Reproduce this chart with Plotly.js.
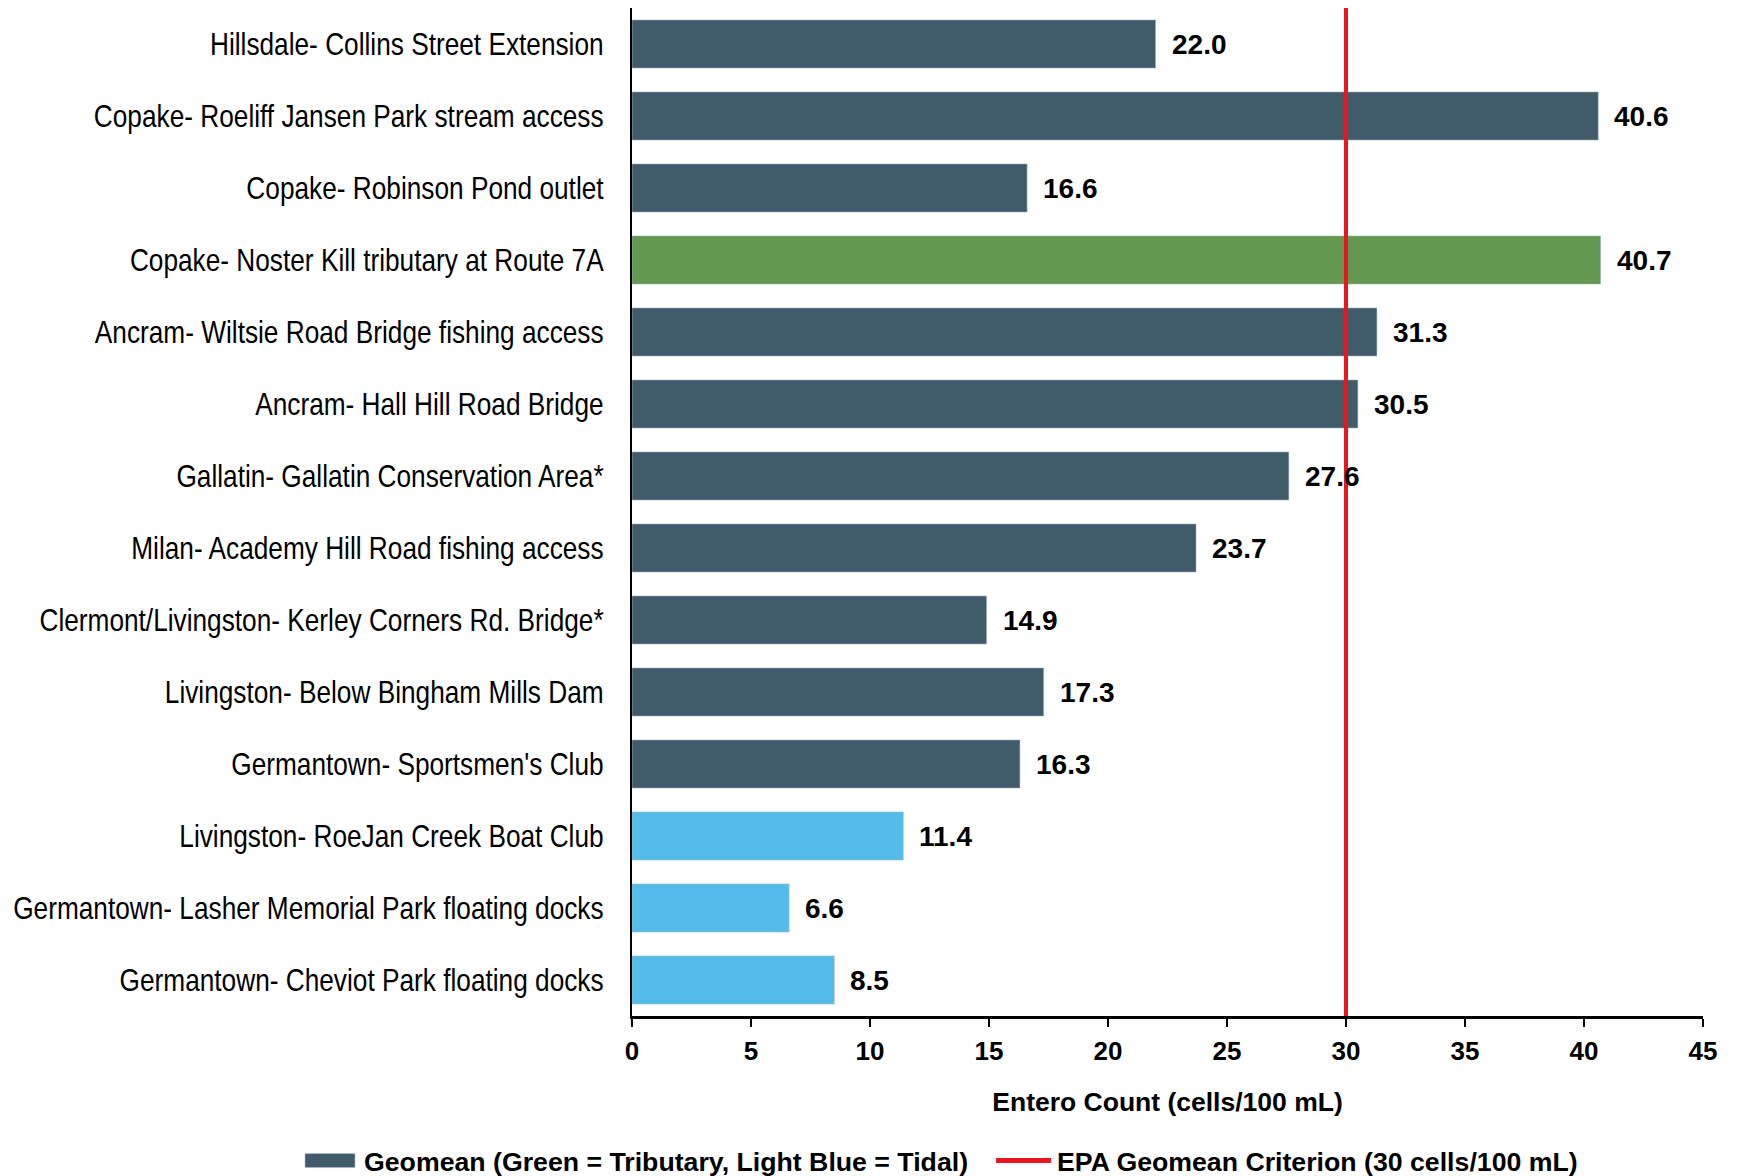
<!DOCTYPE html>
<html>
<head>
<meta charset="utf-8">
<script src="https://cdn.plot.ly/plotly-3.0.1.min.js"></script>
<style>
  html, body { margin: 0; padding: 0; background: #ffffff; }
  #chart { width: 1737px; height: 1176px; }
</style>
</head>
<body>
<div id="chart"></div>
<script>
// ---- data (top to bottom as shown) ----
const sites = [
  "Hillsdale- Collins Street Extension",
  "Copake- Roeliff Jansen Park stream access",
  "Copake- Robinson Pond outlet",
  "Copake- Noster Kill tributary at Route 7A",
  "Ancram- Wiltsie Road Bridge fishing access",
  "Ancram- Hall Hill Road Bridge",
  "Gallatin- Gallatin Conservation Area*",
  "Milan- Academy Hill Road fishing access",
  "Clermont/Livingston- Kerley Corners Rd. Bridge*",
  "Livingston- Below Bingham Mills Dam",
  "Germantown- Sportsmen's Club",
  "Livingston- RoeJan Creek Boat Club",
  "Germantown- Lasher Memorial Park floating docks",
  "Germantown- Cheviot Park floating docks"
];
const geomean = [22.0, 40.6, 16.6, 40.7, 31.3, 30.5, 27.6, 23.7, 14.9, 17.3, 16.3, 11.4, 6.6, 8.5];
const siteType = ["stream", "stream", "stream", "tributary", "stream", "stream", "stream",
                  "stream", "stream", "stream", "stream", "tidal", "tidal", "tidal"];
const criterion = 30;
const xTicks = [0, 5, 10, 15, 20, 25, 30, 35, 40, 45];
const barLegendName = "Geomean (Green = Tributary, Light Blue = Tidal)";
const lineLegendName = "EPA Geomean Criterion (30 cells/100 mL)";
const xTitle = "Entero Count (cells/100 mL)";

// ---- styles ----
const typeColors = { stream: "#405C6B", tributary: "#649850", tidal: "#53BCEA" };
const sans = "'Liberation Sans', Arial, Helvetica, sans-serif";
const boldFont = (size) => ({ family: sans, size: size, color: "#000000", weight: "bold" });

const barTrace = {
  type: "bar",
  orientation: "h",
  y: sites,
  x: geomean,
  name: barLegendName,
  marker: {
    color: siteType.map(t => typeColors[t]),
    line: { color: "rgba(170,190,200,0.6)", width: 1 }
  },
  hoverinfo: "x+y"
};

const lineTrace = {
  type: "scatter",
  mode: "lines",
  x: [criterion, criterion],
  y: [0, 1],
  yaxis: "y2",
  name: lineLegendName,
  line: { color: "#E8161E", width: 4 },
  hoverinfo: "skip"
};

const annotations = sites.map((s, i) => ({
  x: geomean[i],
  y: s,
  xref: "x",
  yref: "y",
  text: geomean[i].toFixed(1),
  showarrow: false,
  xanchor: "left",
  yanchor: "middle",
  xshift: 14,
  font: boldFont(28)
}));

const layout = {
  width: 1737,
  height: 1176,
  paper_bgcolor: "#ffffff",
  plot_bgcolor: "#ffffff",
  margin: { l: 632, r: 34, t: 8, b: 160 },
  bargap: 0.33,
  showlegend: true,
  legend: {
    orientation: "h",
    xref: "container",
    yref: "container",
    x: 0.546,
    xanchor: "center",
    y: 0.012,
    yanchor: "middle",
    bgcolor: "rgba(0,0,0,0)",
    font: boldFont(26.7),
    itemwidth: 55,
    traceorder: "normal"
  },
  xaxis: {
    range: [0, 45],
    tickvals: xTicks,
    ticktext: xTicks.map(String),
    showgrid: false,
    zeroline: false,
    showline: true,
    linecolor: "#000000",
    linewidth: 3,
    ticks: "outside",
    ticklen: 8,
    tickwidth: 1.5,
    tickcolor: "#000000",
    ticklabelstandoff: 2,
    tickfont: boldFont(26),
    automargin: false,
    title: { text: xTitle, font: boldFont(26.5), standoff: 28 },
    fixedrange: true
  },
  yaxis: {
    type: "category",
    autorange: "reversed",
    showgrid: false,
    zeroline: false,
    showline: true,
    linecolor: "#000000",
    linewidth: 2,
    ticks: "",
    ticklabelstandoff: 20,
    automargin: false,
    tickfont: { family: sans, size: 32, color: "#000000" },
    fixedrange: true
  },
  yaxis2: {
    overlaying: "y",
    range: [0, 1],
    visible: false,
    fixedrange: true
  },
  annotations: annotations
};

function translateOf(el) {
  const t = el.getAttribute("transform") || "";
  const m = t.match(/translate\(\s*([-\d.eE]+)(?:[ ,]+([-\d.eE]+))?\s*\)/);
  return m ? [parseFloat(m[1]), parseFloat(m[2] || 0)] : [0, 0];
}

Plotly.newPlot("chart", [barTrace, lineTrace], layout, { displayModeBar: false, staticPlot: true }).then(gd => {
  // Narrow (condensed) category labels, anchored at their right end
  gd.querySelectorAll(".ytick text").forEach(el => {
    const b = el.getBBox();
    const ax = b.x + b.width;
    const t = el.getAttribute("transform") || "";
    el.setAttribute("transform", t + " translate(" + ax + ",0) scale(0.82,1) translate(" + (-ax) + ",0)");
  });

  // Legend: one row, reference-style symbols
  const legend = gd.querySelector(".legend");
  if (!legend) return;
  legend.querySelectorAll("[clip-path]").forEach(e => e.removeAttribute("clip-path"));
  const items = legend.querySelectorAll("g.traces");
  if (items.length < 2) return;

  // put both entries on the same row, with the reference spacing
  const [x1, y1] = translateOf(items[0]);
  const [x2, y2] = translateOf(items[1]);
  items[1].setAttribute("transform", "translate(" + x2 + "," + y1 + ")");
  const t1 = items[0].querySelector("text").getBoundingClientRect();
  const t2 = items[1].querySelector("text").getBoundingClientRect();
  const want2 = t1.right + 89;
  items[1].setAttribute("transform", "translate(" + (x2 + want2 - t2.left) + "," + y1 + ")");

  const fixSymbol = (item, isBar) => {
    const txt = item.querySelector("text");
    const paths = item.querySelectorAll(".legendpoints path, .legendlines path, .legendsymbols path");
    const tr = txt.getBoundingClientRect();
    paths.forEach(p => {
      const bb = p.getBBox();
      const pr = p.getBoundingClientRect();
      const offX = pr.left - bb.x;
      const cy = bb.y + bb.height / 2;
      if (isBar) {
        const x0 = tr.left - 59 - offX, x1b = tr.left - 9 - offX;
        p.setAttribute("d", "M" + x0 + "," + (cy - 7) + "H" + x1b + "V" + (cy + 7) + "H" + x0 + "Z");
      } else {
        const x0 = tr.left - 61 - offX, x1b = tr.left - 6 - offX;
        p.setAttribute("d", "M" + x0 + "," + cy + "H" + x1b);
        p.style.strokeWidth = "5px";
      }
    });
  };
  fixSymbol(items[0], true);
  fixSymbol(items[1], false);

  // place the whole legend so the first symbol starts at x = 305
  const firstSym = items[0].querySelector(".legendpoints path, .legendsymbols path");
  if (firstSym) {
    const fr = firstSym.getBoundingClientRect();
    const [lx, ly] = translateOf(legend);
    const tNow = items[0].querySelector("text").getBoundingClientRect();
    const cyNow = (tNow.top + tNow.bottom) / 2;
    legend.setAttribute("transform", "translate(" + (lx + 305 - fr.left) + "," + (ly + 1162 - cyNow) + ")");
  }
});
</script>
</body>
</html>
